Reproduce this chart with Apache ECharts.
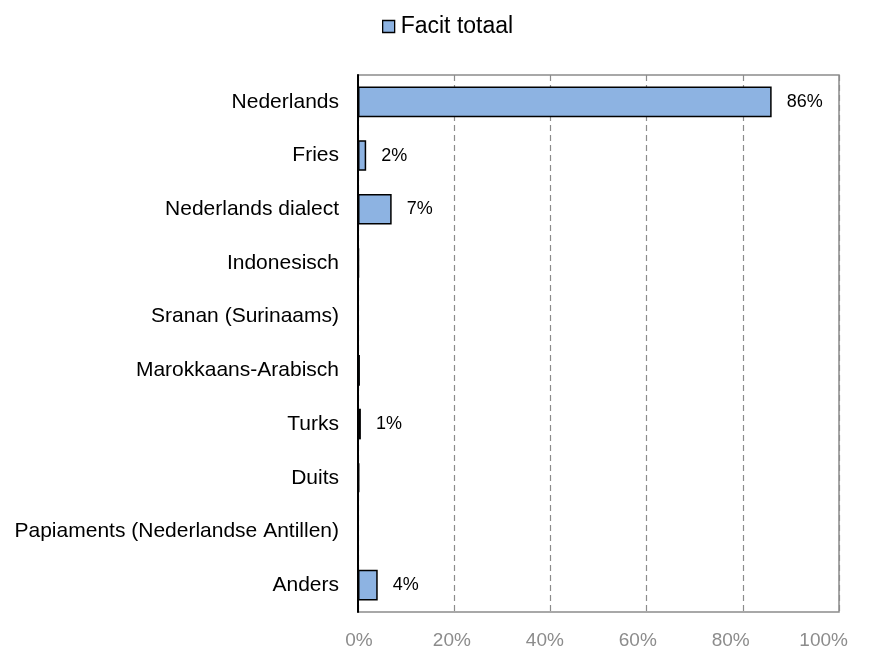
<!DOCTYPE html>
<html>
<head>
<meta charset="utf-8">
<script src="https://cdn.jsdelivr.net/npm/echarts@6/dist/echarts.min.js"></script>
<style>
  html, body { margin: 0; padding: 0; background: #fff; }
  #chart { width: 870px; height: 650px; }
</style>
</head>
<body>
<div id="chart"></div>
<script>
// Languages, listed top to bottom
const languages = [
  'Nederlands',
  'Fries',
  'Nederlands dialect',
  'Indonesisch',
  'Sranan (Surinaams)',
  'Marokkaans-Arabisch',
  'Turks',
  'Duits',
  'Papiaments (Nederlandse Antillen)',
  'Anders'
];
// Share of respondents, in percent
const facitTotaal = [86, 1.7, 7, 0.2, 0.05, 0.4, 0.6, 0.3, 0.1, 4.1];
const xTicks = [0, 20, 40, 60, 80, 100];

const FONT = '"Liberation Sans", Arial, sans-serif';
const chart = echarts.init(document.getElementById('chart'));

chart.setOption({
  animation: false,
  textStyle: { fontFamily: FONT },
  legend: {
    top: 15,
    left: 382,
    padding: 0,
    itemWidth: 12,
    itemHeight: 12,
    itemGap: 4,
    textStyle: { fontSize: 23, color: '#000', fontFamily: FONT, padding: [0, 0, 0, 1] },
    data: [{
      name: 'Facit totaal',
      icon: 'rect',
      itemStyle: { borderColor: '#000', borderWidth: 1.3 }
    }]
  },
  grid: {
    left: 358,
    right: 31,
    top: 75,
    bottom: 38,
    show: true,
    borderColor: '#8c8c8c',
    borderWidth: 1.5
  },
  xAxis: [{
    // value scale used by the bars and the dashed grid lines
    type: 'value',
    min: xTicks[0],
    max: xTicks[xTicks.length - 1],
    interval: 20,
    axisLine: { show: false },
    axisTick: { show: false },
    axisLabel: { show: false },
    splitLine: {
      show: true,
      lineStyle: { color: '#8c8c8c', type: [6, 4], width: 1.2 }
    }
  }, {
    // tick labels, spaced slightly tighter than the grid lines
    type: 'value',
    position: 'bottom',
    min: -0.2,
    max: 103.3,
    axisLine: { show: false },
    axisTick: { show: false },
    splitLine: { show: false },
    axisLabel: {
      customValues: xTicks,
      color: '#8c8c8c',
      fontSize: 19,
      margin: 19,
      fontFamily: FONT,
      formatter: v => Math.round(v) + '%'
    }
  }],
  yAxis: {
    type: 'category',
    inverse: true,
    data: languages,
    axisLine: { show: true, lineStyle: { color: '#000', width: 2 } },
    axisTick: { show: false },
    axisLabel: { color: '#000', fontSize: 21, margin: 19, fontFamily: FONT },
    splitLine: { show: false }
  },
  series: [{
    name: 'Facit totaal',
    type: 'bar',
    xAxisIndex: 0,
    data: facitTotaal,
    barCategoryGap: '43%',
    itemStyle: { color: '#8db3e2', borderColor: '#000', borderWidth: 1.5 },
    label: {
      show: true,
      position: 'right',
      distance: 15,
      color: '#000',
      fontSize: 18,
      fontFamily: FONT,
      formatter: p => {
        const r = Math.round(p.value);
        return r >= 1 ? r + '%' : '';
      }
    }
  }]
});
</script>
</body>
</html>
